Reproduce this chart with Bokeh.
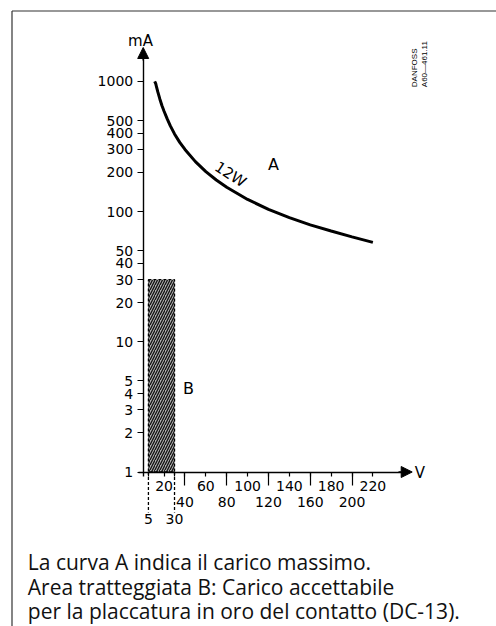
import math
from bokeh.plotting import figure
from bokeh.models import (Range1d, FixedTicker, Label, Arrow, NormalHead)
from bokeh.embed import file_html
from bokeh.resources import INLINE

# ---- data ----
curve_v = [11, 12, 13, 14, 16, 18, 20, 23, 26, 30, 35, 40, 50, 60, 70, 80, 100, 120, 140, 160, 180, 200, 220]
curve_ma = [1000, 960, 890, 830, 730, 650, 590, 515, 455, 395, 340, 300, 242, 203, 175, 154, 124, 104, 90, 79, 71, 64, 58]

bar_left = [5]
bar_right = [30]
bar_bottom = [1]
bar_top = [30]

y_ticks = [1, 2, 3, 4, 5, 10, 20, 30, 40, 50, 100, 200, 300, 400, 500, 1000]
x_row1 = [20, 60, 100, 140, 180, 220]
x_row2 = [40, 80, 120, 160, 200]
x_row3 = [5, 30]

caption = ["La curva A indica il carico massimo.",
           "Area tratteggiata B: Carico accettabile",
           "per la placcatura in oro del contatto (DC-13)."]

AXF = "DejaVu Sans"
W, H = 496, 626
# layout: canvas pixel of V=0 / mA=1 and scale
X0, Y0, KX, KY = 142.7, 471.5, 1.044, 130.2


def vx(px):
    return (px - X0) / KX


def my(py):
    return 10 ** ((Y0 - py) / KY)


p = figure(width=W, height=H, x_range=Range1d(vx(0), vx(W)), y_range=Range1d(my(H), my(0)),
           y_axis_type="log", output_backend="svg", toolbar_location=None,
           min_border=0, min_border_left=0, min_border_right=0, min_border_top=0, min_border_bottom=0)
p.outline_line_color = None
p.grid.visible = False
p.background_fill_color = "white"
p.border_fill_color = "white"

# y axis
ya = p.yaxis[0]
ya.fixed_location = 0
ya.bounds = (my(Y0 + 4.5), my(54))
ya.ticker = FixedTicker(ticks=y_ticks, minor_ticks=[])
ya.major_label_overrides = {t: str(t) for t in y_ticks}
ya.major_tick_in = 0
ya.major_tick_out = 6
ya.major_tick_line_width = 1.2
ya.major_label_standoff = 4
ya.major_label_text_font = AXF
ya.major_label_text_font_size = "14px"
ya.major_label_text_color = "black"
ya.axis_line_width = 1.4
ya.axis_line_color = "black"

# x axis
xa = p.xaxis[0]
xa.fixed_location = 1
xa.bounds = (vx(X0 - 4.5), vx(405))
all_x = sorted(x_row1 + x_row2 + x_row3)
xa.ticker = FixedTicker(ticks=all_x, minor_ticks=x_row2)
labels = {}
for t in x_row1:
    labels[t] = str(t)
for t in x_row2:
    labels[t] = "\n" + str(t)
for t in x_row3:
    labels[t] = "\n\n" + str(t)
xa.major_label_overrides = labels
xa.major_tick_in = 0
xa.major_tick_out = 4
xa.minor_tick_in = 0
xa.minor_tick_out = 13
xa.major_tick_line_width = 1.2
xa.minor_tick_line_width = 1.2
xa.minor_tick_line_color = "black"
xa.major_label_standoff = -7
xa.major_label_text_font = AXF
xa.major_label_text_font_size = "14px"
xa.major_label_text_line_height = 1.02
xa.major_label_text_color = "black"
xa.axis_line_width = 1.4
xa.axis_line_color = "black"

# hatched area B
p.quad(left=bar_left, right=bar_right, bottom=bar_bottom, top=bar_top,
       fill_color="#b0b0b0", hatch_pattern="/", hatch_scale=5, hatch_weight=1.3,
       hatch_color="#111111", line_color="black", line_dash="3 2", line_width=1.3)

# curve A (12W)
p.line(curve_v, curve_ma, line_color="black", line_width=3)


def seg(x0, y0, x1, y1, dash="solid", w=1.4, color="black"):
    p.segment(x0=[x0], y0=[y0], x1=[x1], y1=[y1], line_color=color, line_width=w, line_dash=dash)


# dashed extensions for 5 and 30
for xv in x_row3:
    seg(xv, 1, xv, my(512), dash="3 2", w=1.3)

# axis arrows
p.add_layout(Arrow(end=NormalHead(size=11, fill_color="black", line_color="black"),
                   x_start=0, y_start=my(60), x_end=0, y_end=my(47), line_width=1.4))
p.add_layout(Arrow(end=NormalHead(size=11, fill_color="black", line_color="black"),
                   x_start=vx(398), y_start=1, x_end=vx(411.7), y_end=1, line_width=1.4))


def lab(x, y, text, size="14px", font=AXF, align="center", baseline="middle", angle=0, color="black"):
    p.add_layout(Label(x=x, y=y, text=text, text_font=font, text_font_size=size,
                       text_align=align, text_baseline=baseline, angle=angle, text_color=color))


lab(vx(140), my(40.5), "mA", size="15px")
lab(vx(419.5), my(472), "V", size="15px")
lab(vx(273), my(164), "A", size="16px")
lab(vx(188), my(388), "B", size="16px")
lab(vx(230), my(174), "12W", size="15px", angle=-0.576)

lab(vx(414.3), my(86.7), "DANFOSS", size="8px", font="Liberation Sans", align="left", angle=math.pi / 2)
lab(vx(424.3), my(86.7), "A60\u2014461.11", size="8px", font="Liberation Sans", align="left", angle=math.pi / 2)

cap_base = [561.5, 586.0, 610.5]
for txt, yy in zip(caption, cap_base):
    lab(vx(27.3), my(yy), txt, size="21px", font="Open Sans", align="left", baseline="alphabetic",
        color="#111111")

# outer frame (left and top edges visible)
seg(vx(11.5), my(10.5), vx(11.5), my(H + 5), w=1.2, color="#333333")
seg(vx(11.5), my(10.5), vx(W + 5), my(10.5), w=1.2, color="#333333")

open("out.html", "w").write(file_html(p, INLINE))
